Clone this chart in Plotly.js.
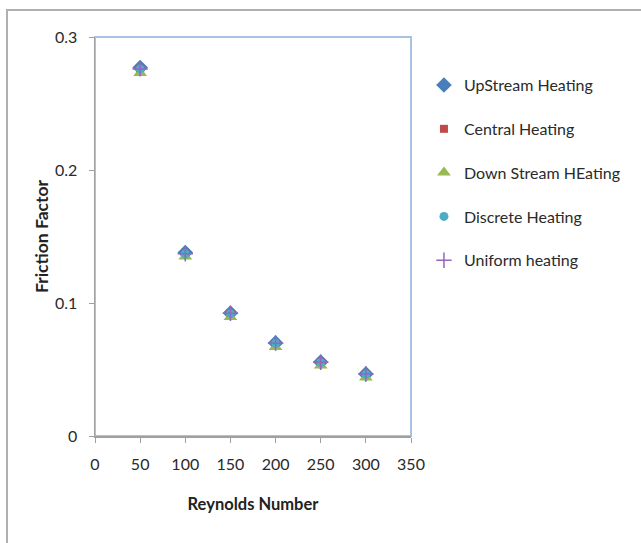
<!DOCTYPE html>
<html>
<head>
<meta charset="utf-8">
<script src="https://cdn.plot.ly/plotly-3.0.1.min.js"></script>
<style>
  html, body { margin: 0; padding: 0; background: #ffffff; }
  #wrap { position: relative; width: 641px; height: 543px; overflow: hidden; }
  #frame { position: absolute; left: 6px; top: 9px; width: 700px; height: 600px;
           border-left: 2px solid #b0b0b0; border-top: 2px solid #b0b0b0; }
  #chart { position: absolute; left: 0; top: 0; width: 641px; height: 543px; }
</style>
</head>
<body>
<div id="wrap">
  <div id="frame"></div>
  <div id="chart"></div>
</div>
<script>
// Reynolds numbers tested
const reynolds = [50, 100, 150, 200, 250, 300];

// Friction factor for each heating configuration
const upstreamHeating   = [0.277, 0.138, 0.0925, 0.0700, 0.0556, 0.0467];
const centralHeating    = [0.276, 0.137, 0.0920, 0.0695, 0.0552, 0.0463];
const downstreamHeating = [0.273, 0.135, 0.0895, 0.0670, 0.0530, 0.0440];
const discreteHeating   = [0.276, 0.137, 0.0920, 0.0697, 0.0553, 0.0464];
const uniformHeating    = [0.276, 0.137, 0.0922, 0.0698, 0.0555, 0.0466];

const seriesNames = ['UpStream Heating', 'Central Heating', 'Down Stream HEating',
                     'Discrete Heating', 'Uniform heating'];

const xTicks = [0, 50, 100, 150, 200, 250, 300, 350];
const yTicks = [0, 0.1, 0.2, 0.3];
const yTickText = ['0', '0.1', '0.2', '0.3'];

const FONT = 'Lato, "Open Sans", sans-serif';
const TEXT = '#2a2a2a';

function series(name, y, marker) {
  return {
    type: 'scatter', mode: 'markers', name: name, legendgroup: name,
    x: reynolds, y: y, marker: marker, hoverinfo: 'x+y+name'
  };
}

const traces = [
  series(seriesNames[0], upstreamHeating,   { symbol: 'diamond', color: '#4a7ebb', size: 12 }),
  series(seriesNames[1], centralHeating,    { symbol: 'square', color: '#be4b48', size: 8 }),
  series(seriesNames[2], downstreamHeating, { symbol: 'triangle-up', color: '#98b954', size: 12 }),
  series(seriesNames[3], discreteHeating,   { symbol: 'circle', color: '#4bacc6', size: 9 }),
  series(seriesNames[4], uniformHeating,    { symbol: 'cross-thin-open', size: 11,
                                              line: { color: '#b3a2c7', width: 1.5 } })
];

const layout = {
  width: 641, height: 543,
  margin: { l: 95, r: 230, t: 37, b: 107 },
  paper_bgcolor: 'rgba(0,0,0,0)',
  plot_bgcolor: '#ffffff',
  font: { family: FONT, color: TEXT, size: 16 },
  showlegend: true,
  legend: {
    x: 1.041, y: 0.922, xanchor: 'left', yanchor: 'top',
    font: { family: FONT, size: 16, color: TEXT },
    tracegroupgap: 20, itemwidth: 30,
    bgcolor: 'rgba(0,0,0,0)'
  },
  xaxis: {
    range: [0, 350], tickvals: xTicks, ticks: 'outside', ticklen: 5,
    tickcolor: '#a0a0a0', showgrid: false, zeroline: false,
    showline: true, linecolor: '#a0a0a0', linewidth: 1.5,
    tickfont: { size: 16, color: TEXT }, ticklabelstandoff: 8,
    title: { text: '<b>Reynolds Number</b>', font: { size: 16.5, color: '#222222' }, standoff: 26 }
  },
  yaxis: {
    range: [0, 0.3], tickvals: yTicks, ticktext: yTickText, ticks: 'outside', ticklen: 5,
    tickcolor: '#a0a0a0', showgrid: false, zeroline: false,
    showline: true, linecolor: '#a0a0a0', linewidth: 1.5,
    tickfont: { size: 16, color: TEXT }, ticklabelstandoff: 8,
    title: { text: '<b>Friction Factor</b>', font: { size: 17.5, color: '#222222' }, standoff: 2 }
  },
  shapes: [{
    type: 'rect', xref: 'paper', yref: 'paper', x0: 0, x1: 1, y0: 0, y1: 1,
    line: { color: '#a8c2e4', width: 2 }, layer: 'below'
  }]
};

Plotly.newPlot('chart', traces, layout, { displayModeBar: false, staticPlot: true });
</script>
</body>
</html>
